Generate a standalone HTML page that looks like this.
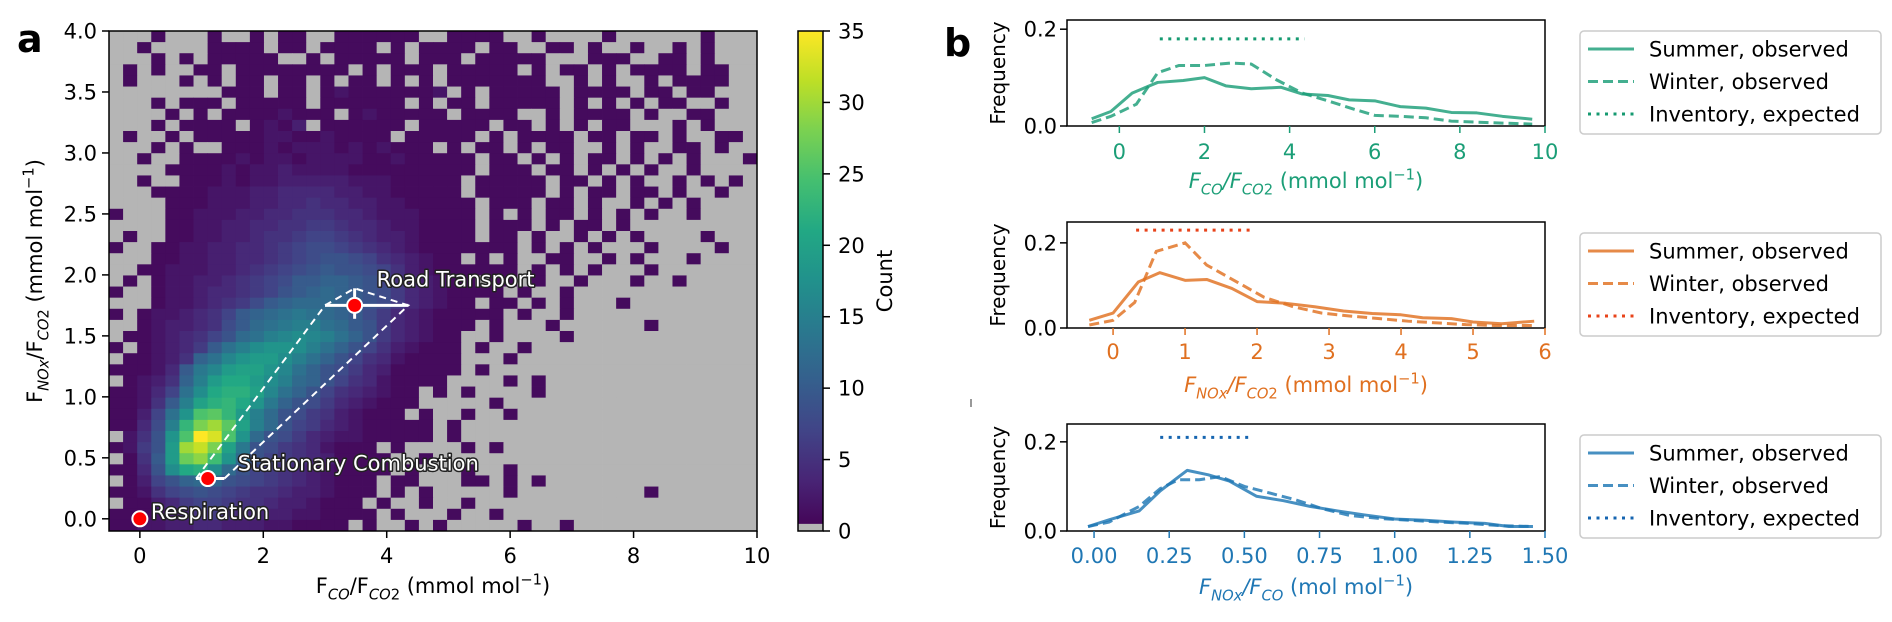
<!DOCTYPE html>
<html><head><meta charset="utf-8"><title>Emission ratio figure</title>
<style>
html,body{margin:0;padding:0;background:#fff;}
svg{display:block;font-family:"DejaVu Sans","Liberation Sans",sans-serif;}
.lab{fill:#fff;stroke:#222;stroke-width:3px;paint-order:stroke;stroke-linejoin:round;font-size:21px;}
</style></head>
<body>
<svg id="fig" width="1892" height="622" viewBox="0 0 1892 622" xmlns="http://www.w3.org/2000/svg">
<rect width="1892" height="622" fill="#fff"/>
<g id="pa"></g>
<g id="pb"></g>
</svg>
<script>
// ===== Panel a data =====
const heatXMin = -0.5, heatXMax = 10, heatYMin = -0.1, heatYMax = 4.0;
// counts: '.'=0, '1'-'9', 'a'=10 ... 'z'=35 ; rows from top (y=4) to bottom
const heatRows = [
"...1...1..1.11..111111..1111..1....1......1...",
"..1....1111.11.1111.1.1111.11..11.1..1..1.1...",
"...1.1.11111..1.11111.111.11111...111..11.1...",
".1.1..11.11111111.1.111.11111.1.11.1.1111.11..",
".1...1.1.11.11.1.11.1.1.1111111..1.1..1.1111..",
"........111.11.121111112.1.11111.1111.11.11...",
"...1.111.11111.111111.1.11.11111.1.1.1.11..1..",
"....1.1.11112111.1211111.1111..1.1111.1..11...",
"...1.1111.1213.111111.11111.11.1.1.11...1.1...",
".1..1.11111221121111.11111.1.1111.11.11.1..11.",
"...1.1..111212221212111.1.11.1.11..1.1..11.1..",
"..1..111121221222211211111.11.1.1.11.1.1.1...1",
"....1111212232222111111111.111.11.1.1.1..1...",
"..1..11121223333322211111.11111.11.1.1..1.1.1",
"...1111222334444332211111.11111.1.11.11.1..1.",
"....1112223344544332211111.111.11.1..1.1.1...",
"1...1122233445554432221111.1.1.11.1.1.1..1..",
"....1122334455665443221111.111.1.11.1.......",
".1..1122334556776543321111.11.1..1.1.1....1.",
"1..11223344567887654321111111.1.1.1...1....1",
"...1122334456789987543211.1.1..11..1.1...1...",
"..1122233456789a9987532111111.1.1.1...1.....",
".1.1223345678aabba97543211.11.1..1...1..1...",
"1..1223445679abcba9864321111.1..1...........",
"...12234568abcccba98643211.11.1.1...1.......",
"1.1223457abcdedcba8643211111.1..1...........",
"..1233458acdeffdca96432111.1...1......1.....",
".11234579cdfghgfdb9643211..1....1...........",
"1.12346adfhiihfdb97532111.1..1.............",
".11235bdgijjhfdb975421111...1..............",
"11124aegjkkigdb9864311111.1................",
".1235bfjlljhfcb975421111....1.1............",
"11247dhlmmkgdb97543211.1.1....1............",
"1125afkmnlieb986432111.....1...............",
"1137dipqnjfc986532111.1..1..1..............",
"1148fnsuqkfc97643211111.1..................",
".259ipzxpic986432211111.1..................",
"1269juwske986542111.1....1.1...............",
".15ajrtoic9765431111..1....................",
"1149hlmhc97654321111.1...1..1..............",
".1379bcb98765432111.11...11.1.1............",
"1125789876554332111.1.1.....1.........1....",
".11346776554332111.1..1..1..................",
"1112345654433221111.1...1..1................",
"11223344333221111.1..1.1.....1..1.........."
];
const cbTicks = [0,5,10,15,20,25,30,35];
const axATicksX = [0,2,4,6,8,10];
const axATicksY = [0.0,0.5,1.0,1.5,2.0,2.5,3.0,3.5,4.0];
const srcNames = ["Respiration","Stationary Combustion","Road Transport"];
const srcX = [0, 1.1, 3.48];
const srcY = [0, 0.33, 1.75];
const polyX = [0.91, 3.0, 3.48, 4.35, 1.37];
const polyY = [0.33, 1.75, 1.89, 1.75, 0.33];

// ===== Panel b data =====
const b1SummerX=[-0.65,-0.2,0.3,0.9,1.5,2.0,2.5,3.1,3.8,4.3,4.9,5.4,6.0,6.6,7.2,7.8,8.4,9.0,9.7];
const b1SummerY=[0.015,0.03,0.068,0.09,0.094,0.1,0.083,0.077,0.08,0.066,0.063,0.054,0.052,0.04,0.037,0.028,0.027,0.02,0.014];
const b1WinterX=[-0.65,-0.2,0.4,0.9,1.4,2.0,2.6,3.1,3.7,4.3,4.9,5.5,6.0,6.6,7.2,7.8,8.4,9.0,9.7];
const b1WinterY=[0.007,0.02,0.045,0.11,0.125,0.125,0.13,0.128,0.095,0.068,0.052,0.035,0.022,0.02,0.017,0.01,0.008,0.006,0.004];
const b1Inv=[0.95,4.35,0.18];
const b2SummerX=[-0.33,0.0,0.35,0.65,1.0,1.3,1.65,2.0,2.4,2.8,3.2,3.6,4.0,4.3,4.7,5.0,5.4,5.85];
const b2SummerY=[0.018,0.035,0.108,0.13,0.112,0.114,0.093,0.062,0.058,0.05,0.04,0.034,0.031,0.024,0.022,0.014,0.01,0.016];
const b2WinterX=[-0.33,0.0,0.3,0.6,1.0,1.3,1.7,2.1,2.5,2.9,3.3,3.7,4.1,4.5,4.9,5.3,5.85];
const b2WinterY=[0.007,0.018,0.06,0.18,0.2,0.148,0.11,0.072,0.05,0.035,0.028,0.022,0.016,0.012,0.008,0.006,0.006];
const b2Inv=[0.32,1.95,0.23];
const b3SummerX=[-0.02,0.05,0.15,0.22,0.31,0.38,0.45,0.54,0.63,0.72,0.81,0.9,1.0,1.1,1.2,1.3,1.38,1.46];
const b3SummerY=[0.01,0.025,0.045,0.09,0.136,0.126,0.112,0.078,0.068,0.055,0.045,0.036,0.027,0.024,0.02,0.017,0.01,0.01];
const b3WinterX=[-0.02,0.05,0.15,0.22,0.28,0.35,0.42,0.5,0.58,0.67,0.76,0.85,0.95,1.05,1.15,1.25,1.35,1.46];
const b3WinterY=[0.01,0.02,0.055,0.095,0.115,0.115,0.122,0.1,0.086,0.07,0.05,0.035,0.028,0.024,0.02,0.017,0.012,0.01];
const b3Inv=[0.22,0.52,0.21];
const b1TicksX=[0,2,4,6,8,10];
const b2TicksX=[0,1,2,3,4,5,6];
const b3TicksX=[0.00,0.25,0.50,0.75,1.00,1.25,1.50];
const bTicksY=[0.0,0.2];
const legendLabels=["Summer, observed","Winter, observed","Inventory, expected"];

// ===== helpers =====
const NS="http://www.w3.org/2000/svg";
function mk(tag, attrs, parent){
  const e=document.createElementNS(NS,tag);
  for(const k in attrs) e.setAttribute(k,attrs[k]);
  parent.appendChild(e); return e;
}
function lin(d0,d1,r0,r1){return v=>r0+(v-d0)/(d1-d0)*(r1-r0);}
const VIR=["#440154","#482475","#414487","#355f8d","#2a788e","#21918c","#22a884","#44bf70","#7ad151","#bddf26","#fde725"];
function hex(h){return [1,3,5].map(i=>parseInt(h.substr(i,2),16));}
function viridis(t){
  t=Math.max(0,Math.min(1,t));const p=t*10,i=Math.min(9,Math.floor(p)),f=p-i;
  const a=hex(VIR[i]),b=hex(VIR[i+1]);
  return "rgb("+a.map((v,k)=>Math.round(v+(b[k]-v)*f)).join(",")+")";
}
function decode(ch){ if(ch==='.')return 0; if(ch>='1'&&ch<='9')return +ch; return ch.charCodeAt(0)-87; }
// parts: [text, mode('', 'sub', 'sup'), italic]
function ratioLabel(parent,x,y,parts,opts){
  const t=mk('text',{x:x,y:y,'font-size':opts.size,fill:opts.color||'#000','text-anchor':opts.anchor||'middle'},parent);
  if(opts.rot) t.setAttribute('transform','rotate(-90 '+x+' '+y+')');
  let cur=0;
  parts.forEach(p=>{
    const target = p[1]==='sub' ? opts.size*0.3 : (p[1]==='sup' ? -opts.size*0.4 : 0);
    const s=mk('tspan',{dy:(target-cur)},t);
    cur=target;
    if(p[1]) s.setAttribute('font-size',opts.size*0.7);
    if(p[2]) s.setAttribute('font-style','italic');
    s.textContent=p[0];
  });
  return t;
}

// ===== Panel a =====
const pa=document.getElementById('pa');
const AX0=109, AX1=757, AY0=531, AY1=31;
const sx=lin(heatXMin,heatXMax,AX0,AX1), sy=lin(heatYMin,heatYMax,AY0,AY1);
const NX=46, NY=heatRows.length;
const dx=(heatXMax-heatXMin)/NX, dy=(heatYMax-heatYMin)/NY;
const hg=mk('g',{},pa);


heatRows.forEach((row,r)=>{
  const s=row.padEnd(NX,'.').slice(0,NX);
  for(let c=0;c<NX;c++){
    const v=decode(s[c]);
    const x0=sx(heatXMin+c*dx), x1=sx(heatXMin+(c+1)*dx);
    const y0=sy(heatYMax-r*dy), y1=sy(heatYMax-(r+1)*dy);
    const cell=mk('rect',{x:x0,y:y0,width:x1-x0+0.4,height:y1-y0+0.4,fill:v===0?'#b5b5b5':viridis(v/35)},hg);
    
    
  }
});
const pts=polyX.map((x,i)=>sx(x)+','+sy(polyY[i])).join(' ');
const poly=mk('polygon',{points:pts,fill:'none',stroke:'#fff','stroke-width':2,'stroke-dasharray':'7,5'},pa);


const eb=mk('g',{stroke:'#fff','stroke-width':3},pa);


mk('line',{x1:sx(polyX[1]),y1:sy(srcY[2]),x2:sx(polyX[3]),y2:sy(srcY[2])},eb);
mk('line',{x1:sx(srcX[2]),y1:sy(1.64),x2:sx(srcX[2]),y2:sy(polyY[2])},eb);
mk('line',{x1:sx(polyX[0]),y1:sy(srcY[1]),x2:sx(polyX[4]),y2:sy(srcY[1])},eb);
const labOff=[[11,0],[30,-8],[22,-19]];
srcX.forEach((x,i)=>{
  const c=mk('circle',{cx:sx(x),cy:sy(srcY[i]),r:7.5,fill:'#f00',stroke:'#fff','stroke-width':2},pa);
  
  
  const t=mk('text',{x:sx(x)+labOff[i][0],y:sy(srcY[i])+labOff[i][1],'class':'lab'},pa);
  
  
  t.textContent=srcNames[i];
});
mk('rect',{x:AX0,y:AY1,width:AX1-AX0,height:AY0-AY1,fill:'none',stroke:'#000','stroke-width':1.5},pa);
axATicksX.forEach(v=>{
  mk('line',{x1:sx(v),x2:sx(v),y1:AY0,y2:AY0+7,stroke:'#000','stroke-width':1.5},pa);
  const t=mk('text',{x:sx(v),y:563,'font-size':21,'text-anchor':'middle'},pa);
  
  
  t.textContent=v;
});
axATicksY.forEach(v=>{
  mk('line',{x1:AX0,x2:AX0-7,y1:sy(v),y2:sy(v),stroke:'#000','stroke-width':1.5},pa);
  const t=mk('text',{x:97,y:sy(v)+7.5,'font-size':21,'text-anchor':'end'},pa);
  
  
  t.textContent=v.toFixed(1);
});
let xl=ratioLabel(pa,433,593,[["F"],["CO",'sub',1],["/F"],["CO",'sub',1],["2",'sub'],[" (mmol mol"],["−1",'sup'],[")"]],{size:21});


let yl=ratioLabel(pa,42,281,[["F"],["NO",'sub',1],["x",'sub',1],["/F"],["CO",'sub',1],["2",'sub'],["  (mmol mol"],["−1",'sup'],[")"]],{size:21,rot:1});


const la=mk('text',{x:17,y:52,'font-size':38,'font-weight':'bold'},pa);


la.textContent='a';
// colorbar
const CB0=798, CB1=823, cs=lin(0,35,AY0,AY1);
const defs=mk('defs',{},pa);
const gr=mk('linearGradient',{id:'vg',x1:0,y1:1,x2:0,y2:0},defs);
for(let i=0;i<=10;i++) mk('stop',{offset:i/10,'stop-color':VIR[i]},gr);
const cb=mk('g',{},pa);


mk('rect',{x:CB0,y:AY1,width:CB1-CB0,height:AY0-AY1,fill:'url(#vg)'},cb);
mk('rect',{x:CB0,y:cs(0.5),width:CB1-CB0,height:AY0-cs(0.5),fill:'#b5b5b5'},cb);
mk('rect',{x:CB0,y:AY1,width:CB1-CB0,height:AY0-AY1,fill:'none',stroke:'#000','stroke-width':1.5},cb);
cbTicks.forEach(v=>{
  mk('line',{x1:CB1,x2:CB1+7,y1:cs(v),y2:cs(v),stroke:'#000','stroke-width':1.5},cb);
  const t=mk('text',{x:838,y:cs(v)+7.5,'font-size':21},cb);
  
  
  t.textContent=v;
});
const ct=mk('text',{x:892,y:281,'font-size':21,'text-anchor':'middle',transform:'rotate(-90 892 281)'},cb);


ct.textContent='Count';

// ===== Panel b =====
const pb=document.getElementById('pb');
const BX0=1067, BX1=1545;
const subplots=[
 {top:20,bot:126,xmin:-1.23,xmax:10,ymax:0.219,color:'#1b9e77',inv:'#159a70',sX:b1SummerX,sY:b1SummerY,wX:b1WinterX,wY:b1WinterY,inv3:b1Inv,ticks:b1TicksX,fmt:v=>String(v),tlY:159,xlY:188,leg:[31,134],
  xlab:[["F",'',1],["CO",'sub',1],["/F",'',1],["CO",'sub',1],["2",'sub'],[" (mmol mol"],["−1",'sup'],[")"]]},
 {top:222,bot:328,xmin:-0.64,xmax:6,ymax:0.249,color:'#e07020',inv:'#e8431a',sX:b2SummerX,sY:b2SummerY,wX:b2WinterX,wY:b2WinterY,inv3:b2Inv,ticks:b2TicksX,fmt:v=>String(v),tlY:359,xlY:392,leg:[233,336],
  xlab:[["F",'',1],["NO",'sub',1],["x",'sub',1],["/F",'',1],["CO",'sub',1],["2",'sub'],[" (mmol mol"],["−1",'sup'],[")"]]},
 {top:424,bot:531,xmin:-0.09,xmax:1.5,ymax:0.24,color:'#1f77b4',inv:'#1565b0',sX:b3SummerX,sY:b3SummerY,wX:b3WinterX,wY:b3WinterY,inv3:b3Inv,ticks:b3TicksX,fmt:v=>v.toFixed(2),tlY:563,xlY:594,leg:[435,538],
  xlab:[["F",'',1],["NO",'sub',1],["x",'sub',1],["/F",'',1],["CO",'sub',1],[" (mol mol"],["−1",'sup'],[")"]]}
];
subplots.forEach((p,k)=>{
  const g=mk('g',{},pb);
  
  
  const X=lin(p.xmin,p.xmax,BX0,BX1), Y=lin(0,p.ymax,p.bot,p.top);
  const s=mk('polyline',{points:p.sX.map((x,i)=>X(x)+','+Y(p.sY[i])).join(' '),fill:'none',stroke:p.color,'stroke-opacity':0.82,'stroke-width':3,'stroke-linejoin':'round'},g);
  
  
  const w=mk('polyline',{points:p.wX.map((x,i)=>X(x)+','+Y(p.wY[i])).join(' '),fill:'none',stroke:p.color,'stroke-opacity':0.82,'stroke-width':3,'stroke-dasharray':'10,5'},g);
  
  
  const iv=mk('line',{x1:X(p.inv3[0]),x2:X(p.inv3[1]),y1:Y(p.inv3[2]),y2:Y(p.inv3[2]),stroke:p.inv,'stroke-width':3,'stroke-dasharray':'3,5.5'},g);
  
  
  mk('rect',{x:BX0,y:p.top,width:BX1-BX0,height:p.bot-p.top,fill:'none',stroke:'#000','stroke-width':1.5},g);
  p.ticks.forEach(v=>{
    mk('line',{x1:X(v),x2:X(v),y1:p.bot,y2:p.bot+7,stroke:p.color,'stroke-width':1.5},g);
    const t=mk('text',{x:X(v),y:p.tlY,'font-size':21,'text-anchor':'middle',fill:p.color},g);
    
    
    t.textContent=p.fmt(v);
  });
  bTicksY.forEach(v=>{
    mk('line',{x1:BX0,x2:BX0-7,y1:Y(v),y2:Y(v),stroke:'#000','stroke-width':1.5},g);
    const t=mk('text',{x:1057,y:Y(v)+7.5,'font-size':21,'text-anchor':'end'},g);
    
    
    t.textContent=v.toFixed(1);
  });
  const fy=(p.top+p.bot)/2;
  const fl=mk('text',{x:1005,y:fy,'font-size':20,'text-anchor':'middle',transform:'rotate(-90 1005 '+fy+')'},g);
  
  
  fl.textContent='Frequency';
  const xt=ratioLabel(g,1306,p.xlY,p.xlab,{size:21,color:p.color});
  
  
  const lg=mk('g',{},g);
  
  
  mk('rect',{x:1580,y:p.leg[0],width:301,height:p.leg[1]-p.leg[0],rx:4,fill:'#fff',stroke:'#ccc','stroke-width':1.5},lg);
  const dashes=['none','10,5','3,5.5'];
  legendLabels.forEach((L,i)=>{
    const ly=p.leg[0]+18+i*32.5;
    const ln=mk('line',{x1:1588,x2:1634,y1:ly,y2:ly,stroke:i===2?p.inv:p.color,'stroke-opacity':i===2?1:0.82,'stroke-width':3},lg);
    if(i>0) ln.setAttribute('stroke-dasharray',dashes[i]);
    const t=mk('text',{x:1649,y:ly+7.5,'font-size':21},lg);
    
    
    t.textContent=L;
  });
});
const lb=mk('text',{x:944,y:56,'font-size':38,'font-weight':'bold'},pb);


lb.textContent='b';
mk('line',{x1:971,x2:971,y1:399,y2:407,stroke:'#555','stroke-width':1.2},pb);
</script>
</body></html>
